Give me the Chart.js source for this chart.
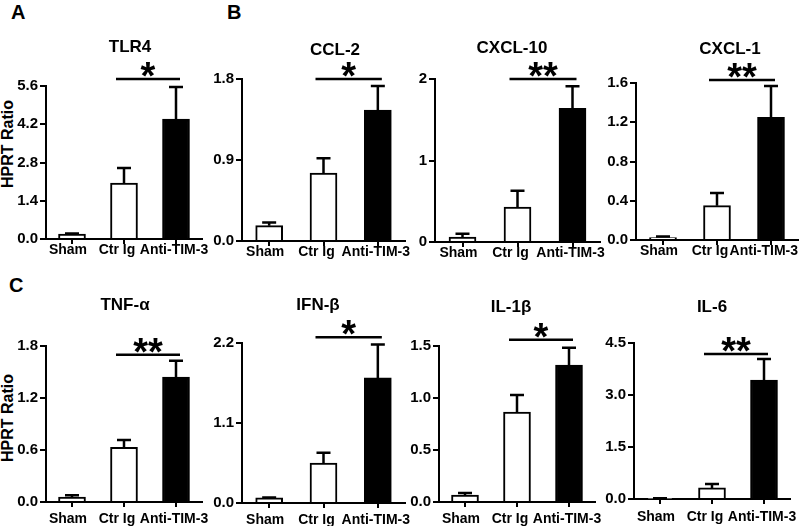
<!DOCTYPE html>
<html>
<head>
<meta charset="utf-8">
<script src="https://cdn.jsdelivr.net/npm/chart.js@4.4.1/dist/chart.umd.min.js"></script>
<style>
  body { margin: 0; background: #fff; width: 800px; height: 526px; position: relative; overflow: hidden; font-family: "Liberation Sans", Arial, sans-serif; }
  canvas { position: absolute; }
  .lbl { position: absolute; font-weight: bold; font-size: 20px; line-height: 20px; color: #000; }
  .ytitle { position: absolute; font-weight: bold; font-size: 16px; line-height: 16px; white-space: nowrap; color: #000;
            transform: translate(-50%, -50%) rotate(-90deg); }
</style>
</head>
<body>
<div class="lbl" style="left:11px;top:2px">A</div>
<div class="lbl" style="left:227px;top:2px">B</div>
<div class="lbl" style="left:9px;top:275px">C</div>
<div class="ytitle" style="left:8px;top:144px">HPRT Ratio</div>
<div class="ytitle" style="left:8px;top:418px">HPRT Ratio</div>
<script>
// --- datos ---
const groups = ['Sham', 'Ctr Ig', 'Anti-TIM-3'];
const markerNames = ['TLR4', 'CCL-2', 'CXCL-10', 'CXCL-1', 'TNF-α', 'IFN-β', 'IL-1β', 'IL-6'];

const tlr4Mean = [0.18, 2.05, 4.39],   tlr4Sem = [0.02, 0.55, 1.17];
const ccl2Mean = [0.17, 0.755, 1.456], ccl2Sem = [0.035, 0.165, 0.265];
const cxcl10Mean = [0.06, 0.43, 1.64], cxcl10Sem = [0.04, 0.2, 0.27];
const cxcl1Mean = [0.025, 0.35, 1.25], cxcl1Sem = [0.01, 0.13, 0.32];
const tnfMean = [0.058, 0.63, 1.44],   tnfSem = [0.02, 0.085, 0.19];
const ifnMean = [0.07, 0.55, 1.72],    ifnSem = [0.005, 0.14, 0.46];
const il1Mean = [0.067, 0.865, 1.317], il1Sem = [0.02, 0.165, 0.165];
const il6Mean = [0.015, 0.32, 3.43],   il6Sem = [0.005, 0.11, 0.61];

const tlr4Ticks = ['0.0', '1.4', '2.8', '4.2', '5.6'];
const ccl2Ticks = ['0.0', '0.9', '1.8'];
const cxcl10Ticks = ['0', '1', '2'];
const cxcl1Ticks = ['0.0', '0.4', '0.8', '1.2', '1.6'];
const tnfTicks = ['0.0', '0.6', '1.2', '1.8'];
const ifnTicks = ['0.0', '1.1', '2.2'];
const il1Ticks = ['0.0', '0.5', '1.0', '1.5'];
const il6Ticks = ['0.0', '1.5', '3.0', '4.5'];

const sigStars = ['*', '*', '**', '**', '**', '*', '*', '**'];
const sigLevels = [5.86, 1.8, 2.0, 1.63, 1.70, 2.28, 1.56, 4.18];

const means = [tlr4Mean, ccl2Mean, cxcl10Mean, cxcl1Mean, tnfMean, ifnMean, il1Mean, il6Mean];
const sems = [tlr4Sem, ccl2Sem, cxcl10Sem, cxcl1Sem, tnfSem, ifnSem, il1Sem, il6Sem];
const tickSets = [tlr4Ticks, ccl2Ticks, cxcl10Ticks, cxcl1Ticks, tnfTicks, ifnTicks, il1Ticks, il6Ticks];

// --- posición de cada panel (px en la página) ---
const frames = [
  { left: 46,  width: 156, top: 86,  bottom: 239, rowTop: 0,   titleX: 130, titleY: 47,  labelDy: 11 },
  { left: 242, width: 163, top: 79,  bottom: 241, rowTop: 0,   titleX: 335, titleY: 50,  labelDy: 11 },
  { left: 435, width: 165, top: 79,  bottom: 242, rowTop: 0,   titleX: 512, titleY: 48,  labelDy: 11 },
  { left: 636, width: 162, top: 83,  bottom: 240, rowTop: 0,   titleX: 730, titleY: 49,  labelDy: 11 },
  { left: 46,  width: 156, top: 346, bottom: 502, rowTop: 258, titleX: 125, titleY: 305, labelDy: 17 },
  { left: 242, width: 163, top: 343, bottom: 503, rowTop: 258, titleX: 318, titleY: 305, labelDy: 17 },
  { left: 439, width: 156, top: 346, bottom: 502, rowTop: 258, titleX: 511, titleY: 307, labelDy: 17 },
  { left: 634, width: 156, top: 343, bottom: 499, rowTop: 258, titleX: 712, titleY: 307, labelDy: 18 }
];
const labelShift = [-4, -7, -2];   // desplazamiento horizontal de las etiquetas del eje x

const Y_W = 42;   // ancho del eje y
const X_H = 28;   // alto del eje x
const PAD_R = 14;
const PAGE_W = 800;
const FONT = '"Liberation Sans", Arial, sans-serif';

// barras de error (solo hacia arriba), línea de significancia, título y etiquetas x
const panelDecor = {
  id: 'panelDecor',
  afterDatasetsDraw(chart, args, opts) {
    const { ctx, chartArea } = chart;
    const x = chart.scales.x, y = chart.scales.y;
    ctx.save();
    ctx.strokeStyle = '#000';
    ctx.lineWidth = 2.5;
    opts.mean.forEach((m, i) => {
      const cx = x.getPixelForValue(i);
      const y0 = y.getPixelForValue(m);
      const y1 = y.getPixelForValue(m + opts.sem[i]);
      ctx.beginPath();
      ctx.moveTo(cx, y0);
      ctx.lineTo(cx, y1);
      ctx.moveTo(cx - 7, y1);
      ctx.lineTo(cx + 7, y1);
      ctx.stroke();
    });

    const ys = y.getPixelForValue(opts.sigLevel);
    const x1 = x.getPixelForValue(1) - 8;
    const x2 = x.getPixelForValue(2) + 4;
    ctx.beginPath();
    ctx.moveTo(x1, ys);
    ctx.lineTo(x2, ys);
    ctx.stroke();

    ctx.fillStyle = '#000';
    ctx.textAlign = 'center';
    ctx.textBaseline = 'alphabetic';
    ctx.font = 'bold 38px ' + FONT;
    ctx.fillText(opts.stars, (x1 + x2) / 2, ys + 10);

    ctx.font = 'bold 17px ' + FONT;
    ctx.textBaseline = 'middle';
    ctx.fillText(opts.title, opts.titleX, opts.titleY);

    // etiquetas del eje x
    ctx.font = 'bold 14px ' + FONT;
    groups.forEach((g, i) => {
      const half = ctx.measureText(g).width / 2;
      let cx = x.getPixelForValue(i) + labelShift[i];
      if (cx + half > opts.rightLimit) cx = opts.rightLimit - half;
      ctx.fillText(g, cx, chartArea.bottom + opts.labelDy);
    });
    ctx.restore();
  }
};

frames.forEach((f, k) => {
  const cv = document.createElement('canvas');
  const w = Y_W + f.width + PAD_R;
  const h = f.bottom - f.rowTop + X_H;
  cv.width = w;
  cv.height = h;
  cv.style.left = (f.left - Y_W) + 'px';
  cv.style.top = f.rowTop + 'px';
  cv.style.width = w + 'px';
  cv.style.height = h + 'px';
  document.body.appendChild(cv);

  const labels = tickSets[k];
  new Chart(cv, {
    type: 'bar',
    data: {
      labels: groups,
      datasets: [{
        data: means[k],
        backgroundColor: ['#fff', '#fff', '#000'],
        borderColor: '#000',
        borderWidth: 2,
        barThickness: 27
      }]
    },
    options: {
      responsive: false,
      animation: false,
      devicePixelRatio: 1,
      layout: { padding: { top: f.top - f.rowTop, right: PAD_R, left: 0, bottom: 0 } },
      plugins: {
        legend: { display: false },
        tooltip: { enabled: false },
        panelDecor: {
          mean: means[k],
          sem: sems[k],
          sigLevel: sigLevels[k],
          stars: sigStars[k],
          title: markerNames[k],
          titleX: f.titleX - (f.left - Y_W),
          titleY: f.titleY - f.rowTop,
          labelDy: f.labelDy,
          rightLimit: PAGE_W - 2 - (f.left - Y_W)
        }
      },
      scales: {
        x: {
          type: 'category',
          offset: true,
          afterFit: s => { s.height = X_H; },
          grid: { display: true, drawOnChartArea: false, drawTicks: true, tickLength: 5, offset: false, color: '#000', lineWidth: 2 },
          border: { display: true, color: '#000', width: 2 },
          ticks: { display: false }
        },
        y: {
          min: 0,
          max: parseFloat(labels[labels.length - 1]),
          afterFit: s => { s.width = Y_W; },
          afterBuildTicks: s => { s.ticks = labels.map(t => ({ value: parseFloat(t) })); },
          grid: { display: true, drawOnChartArea: false, drawTicks: true, tickLength: 6, color: '#000', lineWidth: 2 },
          border: { display: true, color: '#000', width: 2 },
          ticks: { color: '#000', font: { family: FONT, size: 15, weight: 'bold' }, padding: 2, callback: (v, i) => labels[i] }
        }
      }
    },
    plugins: [panelDecor]
  });
});
</script>
</body>
</html>
